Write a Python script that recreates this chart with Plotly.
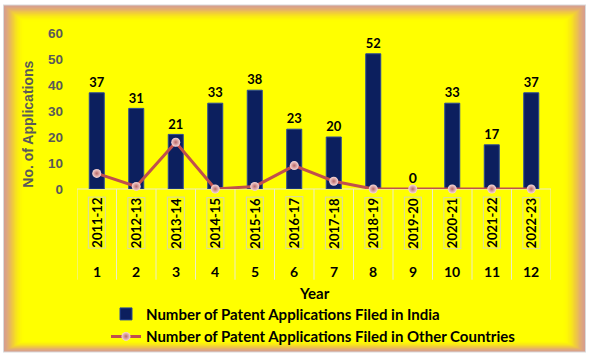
import plotly.graph_objects as go

# ---- data ----
years = ["2011-12", "2012-13", "2013-14", "2014-15", "2015-16", "2016-17",
         "2017-18", "2018-19", "2019-20", "2020-21", "2021-22", "2022-23"]
serial = ["1", "2", "3", "4", "5", "6", "7", "8", "9", "10", "11", "12"]
india = [37, 31, 21, 33, 38, 23, 20, 52, 0, 33, 17, 37]
other = [6, 1, 18, 0, 1, 9, 3, 0, 0, 0, 0, 0]

# ---- geometry (pixels) ----
W, H = 589, 358
L, R, T, B = 77, 551, 32.5, 189


def px(x):
    return (x - L) / (R - L)


def py(y):
    return (B - y) / (B - T)


fig = go.Figure()
fig.add_bar(
    x=years, y=india, name="Number of Patent Applications Filed in India",
    marker=dict(color="#0C1F5E", line=dict(color="#2A4A96", width=1)),
    text=india, textposition="outside", cliponaxis=False,
    textfont=dict(family="Lato", size=14, color="black", weight="bold"),
)
fig.add_scatter(
    x=years, y=other, mode="lines+markers", cliponaxis=False,
    name="Number of Patent Applications Filed in Other Countries",
    line=dict(color="#C0504D", width=3),
    marker=dict(size=9, color="#F8D8D8",
                gradient=dict(type="radial", color="#B86868"),
                line=dict(width=0)),
)

shapes = []
# outer frame with soft gradient edge
x0, y0, x1, y1 = 4, 5, 585, 352
edge = [(214, 158, 142), (222, 168, 125), (230, 180, 100), (238, 198, 70),
        (244, 215, 45), (249, 232, 25), (252, 244, 10), (255, 252, 2), (255, 255, 0)]
steps = 18
shapes.append(dict(type="rect", xref="paper", yref="paper", layer="below",
                   x0=px(x0 - 1), x1=px(x1 + 1), y0=py(y1 + 1), y1=py(y0 - 1),
                   line=dict(width=0), fillcolor="#D9D9D9"))
for k in range(steps + 1):
    t = k / steps
    idx = t * (len(edge) - 1)
    i = min(int(idx), len(edge) - 2)
    f = idx - i
    c = tuple(round(edge[i][j] + (edge[i + 1][j] - edge[i][j]) * f) for j in range(3))
    shapes.append(dict(type="rect", xref="paper", yref="paper", layer="below",
                       x0=px(x0 + k * 1.1), x1=px(x1 - k * 1.2),
                       y0=py(y1 - k * 0.6), y1=py(y0 + k * 0.9),
                       line=dict(width=0), fillcolor="rgb(%d,%d,%d)" % c))
# category dividers
for i in range(len(years) + 1):
    shapes.append(dict(type="line", xref="x", yref="paper", x0=i - 0.5, x1=i - 0.5,
                       y0=0, y1=py(280), line=dict(color="#EDEDC8", width=1), layer="below"))
shapes.append(dict(type="line", xref="paper", yref="paper", x0=0, x1=1, y0=0, y1=0,
                   line=dict(color="#EDEDC8", width=1), layer="below"))

annotations = []
for i, (yr, s) in enumerate(zip(years, serial)):
    annotations.append(dict(x=i, y=py(223), xref="x", yref="paper", text=yr,
                            textangle=-90, showarrow=False, xanchor="center", yanchor="middle",
                            font=dict(family="Lato", size=13, color="black", weight="bold"),
                            bordercolor="#D9D9A8", borderwidth=1, borderpad=0))
    annotations.append(dict(x=i, y=py(272), xref="x", yref="paper", text=s,
                            showarrow=False, xanchor="center", yanchor="middle",
                            font=dict(family="Lato", size=14, color="black", weight="bold")))
annotations.append(dict(x=0.5, y=py(293), xref="paper", yref="paper", text="Year",
                        showarrow=False, xanchor="center", yanchor="middle",
                        font=dict(family="Lato", size=15, color="black", weight="bold")))
annotations.append(dict(x=px(28), y=py(124.5), xref="paper", yref="paper",
                        text="No. of Applications", textangle=-90, showarrow=False,
                        xanchor="center", yanchor="middle",
                        font=dict(family="Liberation Sans", size=14, color="#595959",
                                  weight="bold")))

fig.update_layout(
    width=W, height=H,
    margin=dict(l=L, r=W - R, t=T, b=H - B, autoexpand=False),
    paper_bgcolor="white", plot_bgcolor="rgba(0,0,0,0)",
    bargap=0.62, showlegend=True,
    legend=dict(x=px(106), y=py(298), xanchor="left", yanchor="top",
                bgcolor="rgba(0,0,0,0)", tracegroupgap=0,
                font=dict(family="Lato", size=15, color="black", weight="bold")),
    shapes=shapes, annotations=annotations,
    xaxis=dict(type="category", range=[-0.5, 11.5], showticklabels=False,
               showgrid=False, zeroline=False, showline=False, ticks=""),
    yaxis=dict(range=[0, 60], dtick=10, showgrid=False, zeroline=False, showline=False,
               ticks="", ticklabelstandoff=13,
               tickfont=dict(family="Liberation Sans", size=13.5, color="#595959",
                             weight="bold")),
)

fig.write_html("out.html", config={"displayModeBar": False},
               post_script="document.body.style.margin='0';document.body.style.overflow='hidden';")
